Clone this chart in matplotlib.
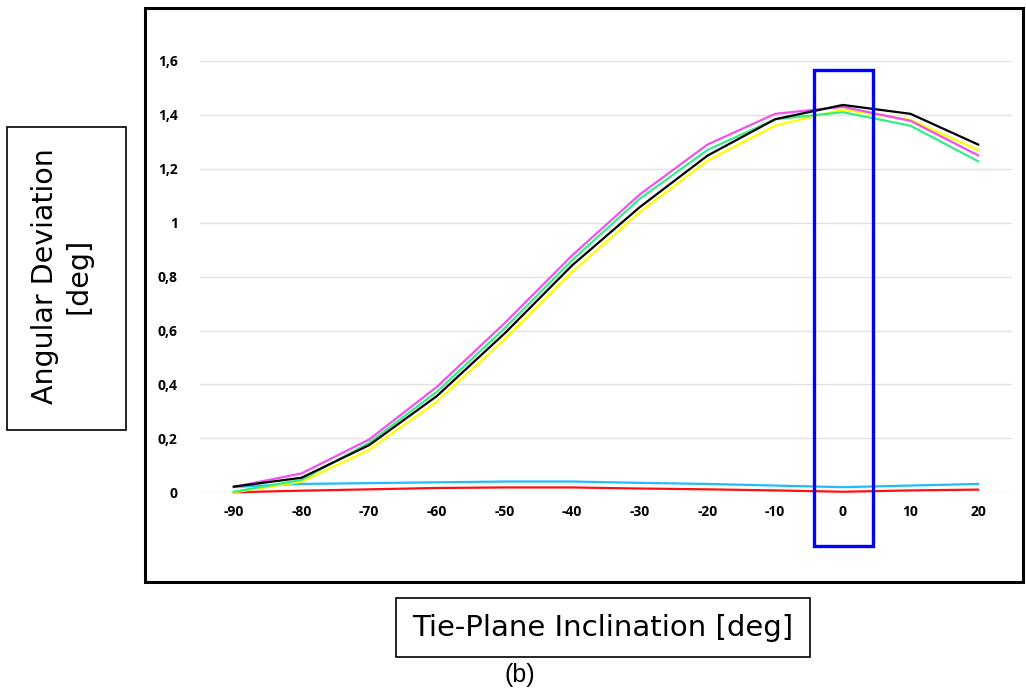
import matplotlib.pyplot as plt
from matplotlib.patches import Rectangle

# Tie-plane inclination [deg]
inclination = [-90, -80, -70, -60, -50, -40, -30, -20, -10, 0, 10, 20]

# angular deviation [deg], one list per curve
magenta = [0.020, 0.070, 0.196, 0.391, 0.627, 0.879, 1.105, 1.290, 1.404, 1.430, 1.378, 1.250]
green   = [0.002, 0.046, 0.184, 0.373, 0.608, 0.861, 1.089, 1.270, 1.384, 1.410, 1.360, 1.228]
yellow  = [0.000, 0.039, 0.157, 0.336, 0.567, 0.817, 1.039, 1.230, 1.360, 1.420, 1.382, 1.270]
black   = [0.021, 0.054, 0.175, 0.357, 0.589, 0.842, 1.058, 1.249, 1.384, 1.437, 1.404, 1.290]
cyan    = [0.020, 0.031, 0.034, 0.037, 0.040, 0.040, 0.035, 0.031, 0.025, 0.019, 0.025, 0.031]
red     = [0.000, 0.006, 0.011, 0.016, 0.018, 0.018, 0.014, 0.011, 0.007, 0.002, 0.007, 0.010]

yticks = [0, 0.2, 0.4, 0.6, 0.8, 1.0, 1.2, 1.4, 1.6]
ytick_labels = ["0", "0,2", "0,4", "0,6", "0,8", "1", "1,2", "1,4", "1,6"]

fig = plt.figure(figsize=(10.26, 6.9), dpi=100)
W, H = 1026, 690

# outer frame of the chart
fig.patches.append(Rectangle((145 / W, 1 - 582 / H), 878 / W, 574 / H,
                             transform=fig.transFigure, fill=False,
                             edgecolor="black", linewidth=2.2))

ax = fig.add_axes([200 / W, 1 - 492.3 / H, 812 / W, 431.3 / H])
ax.set_xlim(-95, 25)
ax.set_ylim(0, 1.6)
for s in ax.spines.values():
    s.set_visible(False)
ax.set_yticks(yticks)
ax.set_yticklabels(ytick_labels)
ax.set_xticks(inclination)
ax.set_xticklabels([str(v) for v in inclination])
ax.tick_params(length=0, labelsize=10, pad=16)
ax.tick_params(axis="x", pad=9)
for lab in ax.get_xticklabels() + ax.get_yticklabels():
    lab.set_fontweight("bold")
    lab.set_family("Open Sans")
ax.grid(axis="y", color="#e2e2e2", linewidth=1)
ax.set_axisbelow(True)

lw = 1.6
ax.plot(inclination, red, color="#ff1010", lw=lw, clip_on=False)
ax.plot(inclination, cyan, color="#22bbff", lw=lw, clip_on=False)
ax.plot(inclination, yellow, color="#ffff00", lw=lw, clip_on=False)
ax.plot(inclination, magenta, color="#f050f0", lw=lw, clip_on=False)
ax.plot(inclination, green, color="#33ee88", lw=lw, clip_on=False)
ax.plot(inclination, black, color="black", lw=lw, clip_on=False)

# highlight box around 0 deg
ax.add_patch(Rectangle((-4.2, -0.2), 8.6, 1.765, fill=False,
                       edgecolor="#0000ff", linewidth=2.4, clip_on=False, zorder=5))

# axis titles in their own boxes
fig.patches.append(Rectangle((7 / W, 1 - 430 / H), 119 / W, 303 / H,
                             transform=fig.transFigure, fill=False,
                             edgecolor="black", linewidth=1.2))
fig.text(62 / W, 1 - 276 / H, "Angular Deviation\n[deg]", rotation=90,
         ha="center", va="center", fontsize=20.5, family="DejaVu Sans",
         linespacing=1.25)

fig.patches.append(Rectangle((396 / W, 1 - 657 / H), 414 / W, 59 / H,
                             transform=fig.transFigure, fill=False,
                             edgecolor="black", linewidth=1.2))
fig.text(603 / W, 1 - 628 / H, "Tie-Plane Inclination [deg]",
         ha="center", va="center", fontsize=21, family="DejaVu Sans")

fig.text(520 / W, 1 - 675 / H, "(b)", ha="center", va="center",
         fontsize=18, family="Liberation Sans")

fig.savefig("out.png", dpi=100)
